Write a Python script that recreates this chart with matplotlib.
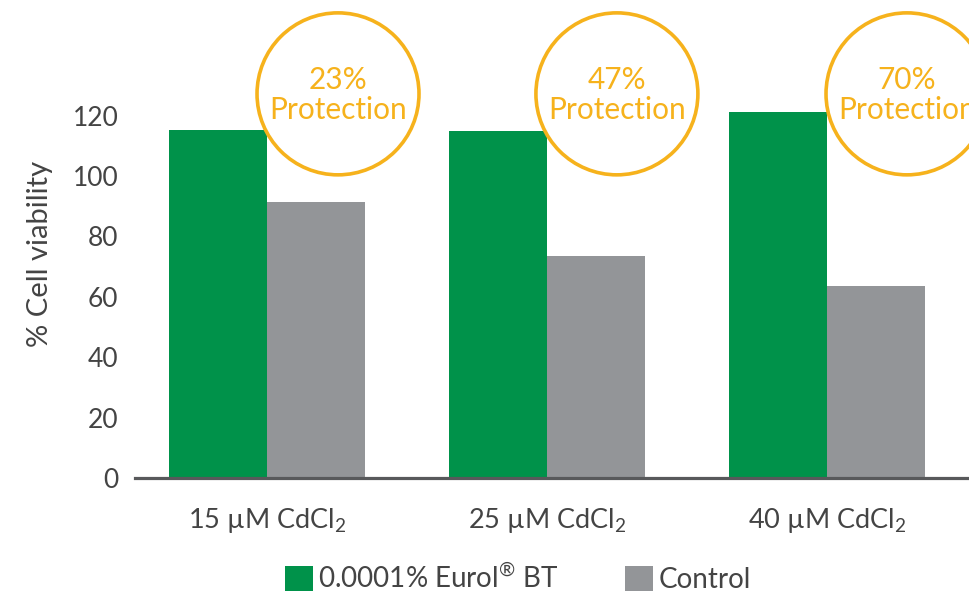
import matplotlib
matplotlib.use("Agg")
import matplotlib.pyplot as plt
from matplotlib.patches import Patch
import numpy as np

plt.rcParams['font.family'] = ['Lato', 'DejaVu Sans']
plt.rcParams['mathtext.fontset'] = 'custom'
plt.rcParams['mathtext.rm'] = 'Lato'
plt.rcParams['mathtext.it'] = 'Lato'

categories = ["15 \u00b5M CdCl$_2$", "25 \u00b5M CdCl$_2$", "40 \u00b5M CdCl$_2$"]
eurol = [115.2, 115.0, 121.2]
control = [91.4, 73.5, 63.6]
protection = ["23%\nProtection", "47%\nProtection", "70%\nProtection"]
series_names = ["0.0001% Eurol$^{\u00ae}$ BT", "Control"]
yticks = [0, 20, 40, 60, 80, 100, 120]

GREEN = "#00924a"
GRAY = "#939598"
ORANGE = "#f6b21c"
TEXT = "#444444"
AXIS = "#58595b"

fig = plt.figure(figsize=(9.7, 5.91), dpi=100)
ax = fig.add_axes([135/970, (591-478)/591, (970-135)/970, (478-100.5)/591])

x = np.arange(len(categories))
w = 0.35
ax.bar(x - w/2, eurol, width=w, color=GREEN, zorder=2)
ax.bar(x + w/2, control, width=w, color=GRAY, zorder=2)

ax.set_xlim(-0.471, 2.511)
ax.set_ylim(0, 125)
ax.set_yticks(yticks)
ax.set_yticklabels([str(v) for v in yticks])
ax.set_xticks(x)
ax.set_xticklabels(categories)

for s in ['top', 'right', 'left']:
    ax.spines[s].set_visible(False)
ax.spines['bottom'].set_color(AXIS)
ax.spines['bottom'].set_linewidth(2.3)
ax.spines['bottom'].set_zorder(3)

ax.tick_params(axis='y', length=0, pad=12, labelsize=19, labelcolor=TEXT)
ax.tick_params(axis='x', length=0, pad=20, labelsize=19.5, labelcolor=TEXT)

fig.text(40/970, 1-254/591, "% Cell viability", rotation=90, ha='center', va='center',
         fontsize=21, color=TEXT)

# protection circles
circle_offsets = [0.254, 0.25, 0.286]
circle_y = 127.2
for i, (lab, off) in enumerate(zip(protection, circle_offsets)):
    cx = x[i] + off
    ax.scatter([cx], [circle_y], s=13600, facecolors='none', edgecolors=ORANGE,
               linewidths=2.6, clip_on=False, zorder=4)
    ax.text(cx, circle_y - 0.4, lab, ha='center', va='center', color=ORANGE,
            fontsize=21.5, linespacing=1.05, clip_on=False, zorder=5)

handles = [Patch(facecolor=GREEN, edgecolor='none'), Patch(facecolor=GRAY, edgecolor='none')]
fig.legend(handles, series_names, ncol=2, loc='upper left',
           bbox_to_anchor=(285/970, 1-564/591), frameon=False,
           handlelength=1.0, handleheight=1.0, handletextpad=0.2,
           columnspacing=2.4, fontsize=20, borderpad=0, borderaxespad=0,
           labelcolor=TEXT)

fig.savefig("out.png", dpi=100)
